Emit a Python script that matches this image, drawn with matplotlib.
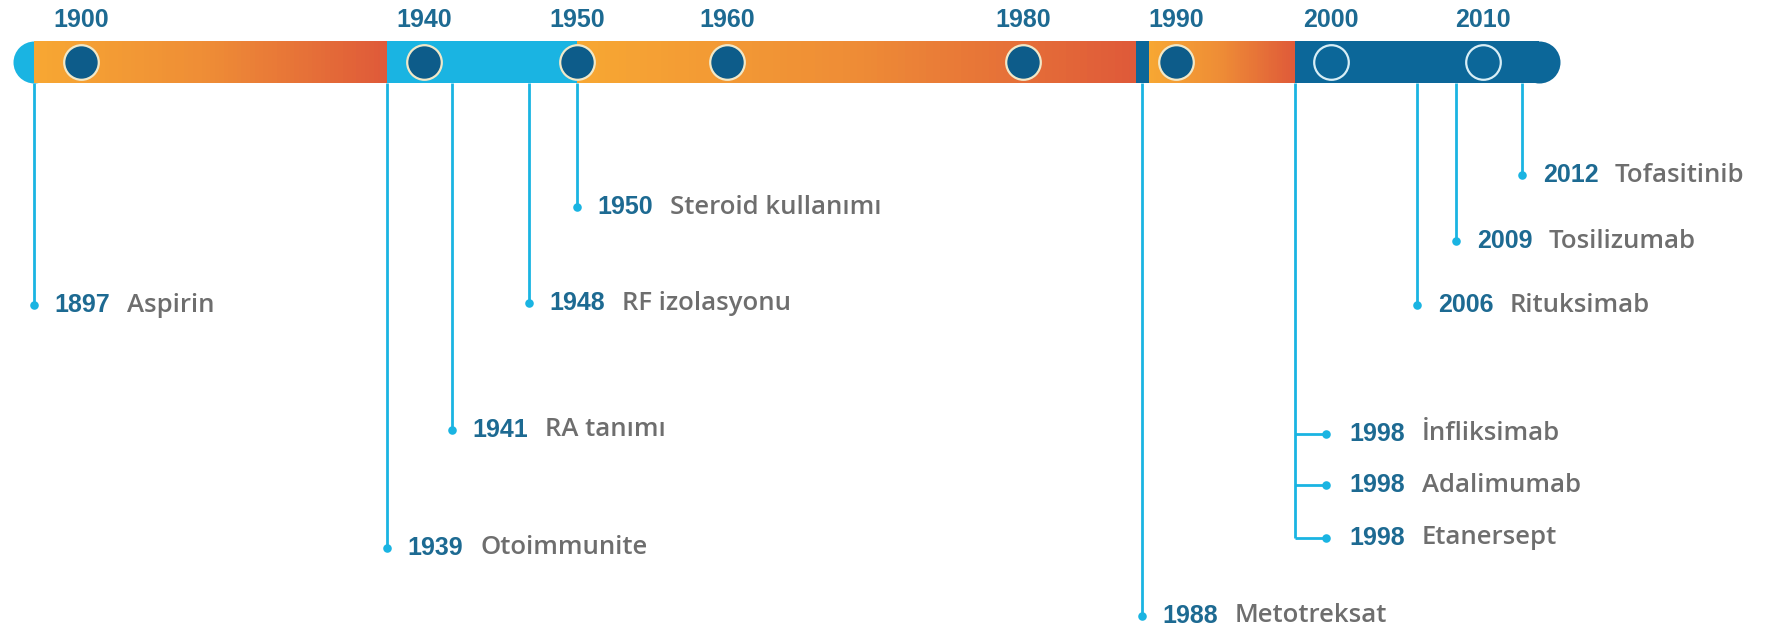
import numpy as np
import matplotlib
matplotlib.use('Agg')
from matplotlib import pyplot as plt
from matplotlib.colors import LinearSegmentedColormap

# timeline data
tick_years = [1900, 1940, 1950, 1960, 1980, 1990, 2000, 2010]
event_years = [1897, 1939, 1941, 1948, 1950, 1988, 1998, 1998, 1998, 2006, 2009, 2012]
event_names = ['Aspirin', 'Otoimmunite', 'RA tanımı', 'RF izolasyonu', 'Steroid kullanımı',
               'Metotreksat', 'İnfliksimab', 'Adalimumab', 'Etanersept',
               'Rituksimab', 'Tosilizumab', 'Tofasitinib']

# layout: how far down each label hangs (pixels from top)
label_y = [305, 548, 430, 303, 207, 616, 434, 485, 538, 305, 241, 175]

# infographic timeline is not linear in years -> piecewise scale (year -> pixel)
scale_years = [1893, 1897, 1900, 1939, 1940, 1941, 1948, 1950, 1960, 1980, 1988,
               1990, 1998, 2000, 2006, 2009, 2010, 2012, 2014, 2025]
scale_px = [0, 34, 81, 387, 424, 452, 529, 577, 727, 1023, 1142,
            1176, 1295, 1331, 1417, 1456, 1483, 1522, 1539, 1773]


def fwd(x):
    return np.interp(x, scale_years, scale_px)


def inv(x):
    return np.interp(x, scale_px, scale_years)


CYAN = '#1ab4e2'
DARK = '#0c6799'
CIRCLE = '#0d5c8a'
ORANGE_L = '#f7a733'
ORANGE_R = '#df5a39'
YEAR_C = '#1d6a92'
NAME_C = '#6e6e6e'
YEAR_FONT = ['Liberation Sans', 'DejaVu Sans']
NAME_FONT = ['Open Sans', 'DejaVu Sans']

W, H = 1773, 629
fig = plt.figure(figsize=(W / 100, H / 100), dpi=100)
ax = fig.add_axes([0, 0, 1, 1])
ax.set_xscale('function', functions=(fwd, inv))
ax.set_xlim(1893, 2025)
ax.set_ylim(H, 0)
ax.axis('off')

bar_top, bar_bot = 41, 83
bar_mid = (bar_top + bar_bot) / 2
bar_h = bar_bot - bar_top
orange = LinearSegmentedColormap.from_list('or', [ORANGE_L, '#ee8c36', ORANGE_R])

# end caps
cap_s = (bar_h * 0.72) ** 2
ax.scatter([1897], [bar_mid], s=cap_s, color=CYAN, lw=0, zorder=1)
ax.scatter([2014], [bar_mid], s=cap_s, color=DARK, lw=0, zorder=1)

segments = [(1897, 1939, 'grad'), (1939, 1950, CYAN), (1950, 1987.6, 'grad'),
            (1987.6, 1988.4, DARK), (1988.4, 1998, 'grad'), (1998, 2014, DARK)]
for a, b, c in segments:
    if c == 'grad':
        edges = inv(np.linspace(fwd(a), fwd(b), 81))
        cols = orange(np.linspace(0, 1, 80))
        ax.barh(bar_mid, np.diff(edges), left=edges[:-1], height=bar_h,
                color=cols, lw=0, antialiased=False, zorder=2)
    else:
        ax.barh(bar_mid, b - a, left=a, height=bar_h, color=c, lw=0, zorder=2)

# decade circles and labels
for yr in tick_years:
    if yr >= 2000:
        ax.scatter(yr, bar_mid, s=620, color=DARK, edgecolor='#d8eef6', lw=1.6, zorder=3)
    else:
        ax.scatter(yr, bar_mid, s=620, color=CIRCLE, edgecolor='#f1e8c8', lw=1.6, zorder=3)
    ax.text(yr, 20, str(yr), ha='center', va='center', fontsize=18, fontweight='bold',
            color=YEAR_C, family=YEAR_FONT)

# event stems
line_kw = dict(color=CYAN, lw=2, solid_capstyle='butt', zorder=1)
done = set()
for yr, name, y in zip(event_years, event_names, label_y):
    branched = event_years.count(yr) > 1
    if yr not in done:
        ys = [label_y[i] for i, e in enumerate(event_years) if e == yr]
        ax.plot([yr, yr], [bar_bot, max(ys)], **line_kw)
        done.add(yr)
    if branched:
        x_dot = inv(fwd(yr) + 31)
        ax.plot([yr, x_dot], [y, y], **line_kw)
        off = 17
    else:
        x_dot = yr
        off = 15
    ax.scatter(x_dot, y, s=38, color=CYAN, lw=0, zorder=3)
    ax.annotate(str(yr), (x_dot, y), xytext=(off, 0), textcoords='offset points',
                ha='left', va='center', fontsize=18, fontweight='bold', color=YEAR_C,
                family=YEAR_FONT)
    ax.annotate(name, (x_dot, y), xytext=(off + 52, 0), textcoords='offset points',
                ha='left', va='center', fontsize=18.5, fontweight='semibold', color=NAME_C,
                family=NAME_FONT)

fig.savefig('out.png', dpi=100, facecolor='white')
